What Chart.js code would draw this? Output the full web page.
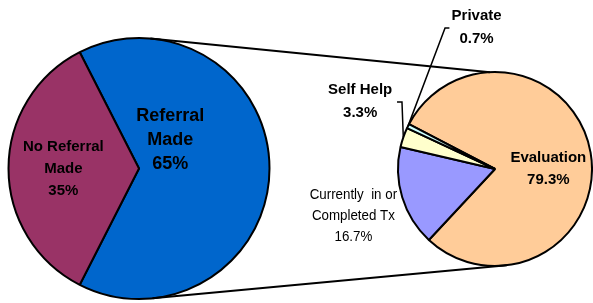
<!DOCTYPE html>
<html>
<head>
<meta charset="utf-8">
<script src="https://cdn.jsdelivr.net/npm/chart.js@4.4.1/dist/chart.umd.min.js"></script>
<style>
  html, body { margin: 0; padding: 0; background: #fff; }
  #wrap { position: relative; width: 593px; height: 303px; }
  #wrap canvas { position: absolute; left: 0; top: 0; }
</style>
</head>
<body>
<div id="wrap">
  <canvas id="mainPie" width="593" height="303"></canvas>
  <canvas id="subPie" width="593" height="303"></canvas>
</div>
<script>
// main pie: was a referral made
const mainLabels = [["Referral", "Made", "65%"], ["No Referral", "Made", "35%"]];
const mainValues = [65, 35];
const mainColors = ["#0066CC", "#993366"];

// breakdown of referrals made
const subLabels = [
  ["Evaluation", "79.3%"],
  ["Currently  in or", "Completed Tx", "16.7%"],
  ["Self Help", "3.3%"],
  ["Private", "0.7%"]
];
const subValues = [79.3, 16.7, 3.3, 0.7];
const subColors = ["#FFCC99", "#9999FF", "#FFFFCC", "#CCFFFF"];

// label placement, in units of the pie radius from its centre
const mainLabelPos = [
  { dx: 0.24, dy: -0.22, font: "bold 18px 'Liberation Sans', Arial", lh: 24 },
  { dx: -0.58, dy: 0, font: "bold 15px 'Liberation Sans', Arial", lh: 22 }
];
const subLabelPos = [
  { dx: 0.55, dy: 0, font: "bold 15px 'Liberation Sans', Arial", lh: 22 },
  // narrow-looking text, squeezed horizontally
  { dx: -1.46, dy: 0.485, font: "15.5px 'Liberation Sans', Arial", lh: 21, sx: 0.86 },
  { dx: -1.39, dy: -0.70, font: "bold 15px 'Liberation Sans', Arial", lh: 23,
    leader: [[-0.959, -0.69], [-1.01, -0.69]] },
  { dx: -0.19, dy: -1.46, font: "bold 15px 'Liberation Sans', Arial", lh: 23,
    leader: [[-0.515, -1.454], [-0.47, -1.454]] }
];

function labelPlugin(lines, pos) {
  return {
    id: "sliceLabels",
    afterDatasetsDraw(chart) {
      const ctx = chart.ctx;
      const arcs = chart.getDatasetMeta(0).data;
      arcs.forEach((arc, i) => {
        const p = pos[i];
        const r = arc.outerRadius;
        ctx.save();
        if (p.leader) {
          const mid = (arc.startAngle + arc.endAngle) / 2;
          ctx.beginPath();
          ctx.strokeStyle = "#000";
          ctx.lineWidth = 1.5;
          ctx.moveTo(arc.x + Math.cos(mid) * r, arc.y + Math.sin(mid) * r);
          p.leader.forEach(pt => ctx.lineTo(arc.x + pt[0] * r, arc.y + pt[1] * r));
          ctx.stroke();
        }
        ctx.font = p.font;
        ctx.fillStyle = "#000";
        ctx.textAlign = "center";
        ctx.textBaseline = "middle";
        const sx = p.sx || 1;
        const cx = arc.x + p.dx * r;
        const cy = arc.y + p.dy * r;
        ctx.translate(cx, cy);
        ctx.scale(sx, 1);
        const n = lines[i].length;
        lines[i].forEach((t, k) => {
          ctx.fillText(t, 0, (k - (n - 1) / 2) * p.lh);
        });
        ctx.restore();
      });
    }
  };
}

const baseOptions = {
  responsive: false,
  animation: false,
  events: [],
  plugins: { legend: { display: false }, tooltip: { enabled: false } }
};

const mainChart = new Chart(document.getElementById("mainPie"), {
  type: "pie",
  data: {
    labels: mainLabels.map(l => l.join(" ")),
    datasets: [{
      data: mainValues,
      backgroundColor: mainColors,
      borderColor: "#000",
      borderWidth: 2
    }]
  },
  options: Object.assign({}, baseOptions, {
    rotation: 333,
    layout: { padding: { left: 7, top: 37, right: 322, bottom: 3 } }
  }),
  plugins: [labelPlugin(mainLabels, mainLabelPos)]
});

// lines joining the two pies
const connectors = {
  id: "connectors",
  afterDatasetsDraw(chart) {
    const a = mainChart.getDatasetMeta(0).data[0];
    const b = chart.getDatasetMeta(0).data[0];
    const ctx = chart.ctx;
    const deg = Math.PI / 180;
    const pairs = [[-85, -93], [84, 83]];
    ctx.save();
    ctx.strokeStyle = "#000";
    ctx.lineWidth = 2;
    pairs.forEach(([pa, pb]) => {
      ctx.beginPath();
      ctx.moveTo(a.x + Math.cos(pa * deg) * a.outerRadius, a.y + Math.sin(pa * deg) * a.outerRadius);
      ctx.lineTo(b.x + Math.cos(pb * deg) * b.outerRadius, b.y + Math.sin(pb * deg) * b.outerRadius);
      ctx.stroke();
    });
    ctx.restore();
  }
};

new Chart(document.getElementById("subPie"), {
  type: "pie",
  data: {
    labels: subLabels.map(l => l.join(" ")),
    datasets: [{
      data: subValues,
      backgroundColor: subColors,
      borderColor: "#000",
      borderWidth: 2
    }]
  },
  options: Object.assign({}, baseOptions, {
    rotation: 297.5,
    layout: { padding: { left: 397, top: 71, right: 0, bottom: 36 } }
  }),
  plugins: [connectors, labelPlugin(subLabels, subLabelPos)]
});
</script>
</body>
</html>
